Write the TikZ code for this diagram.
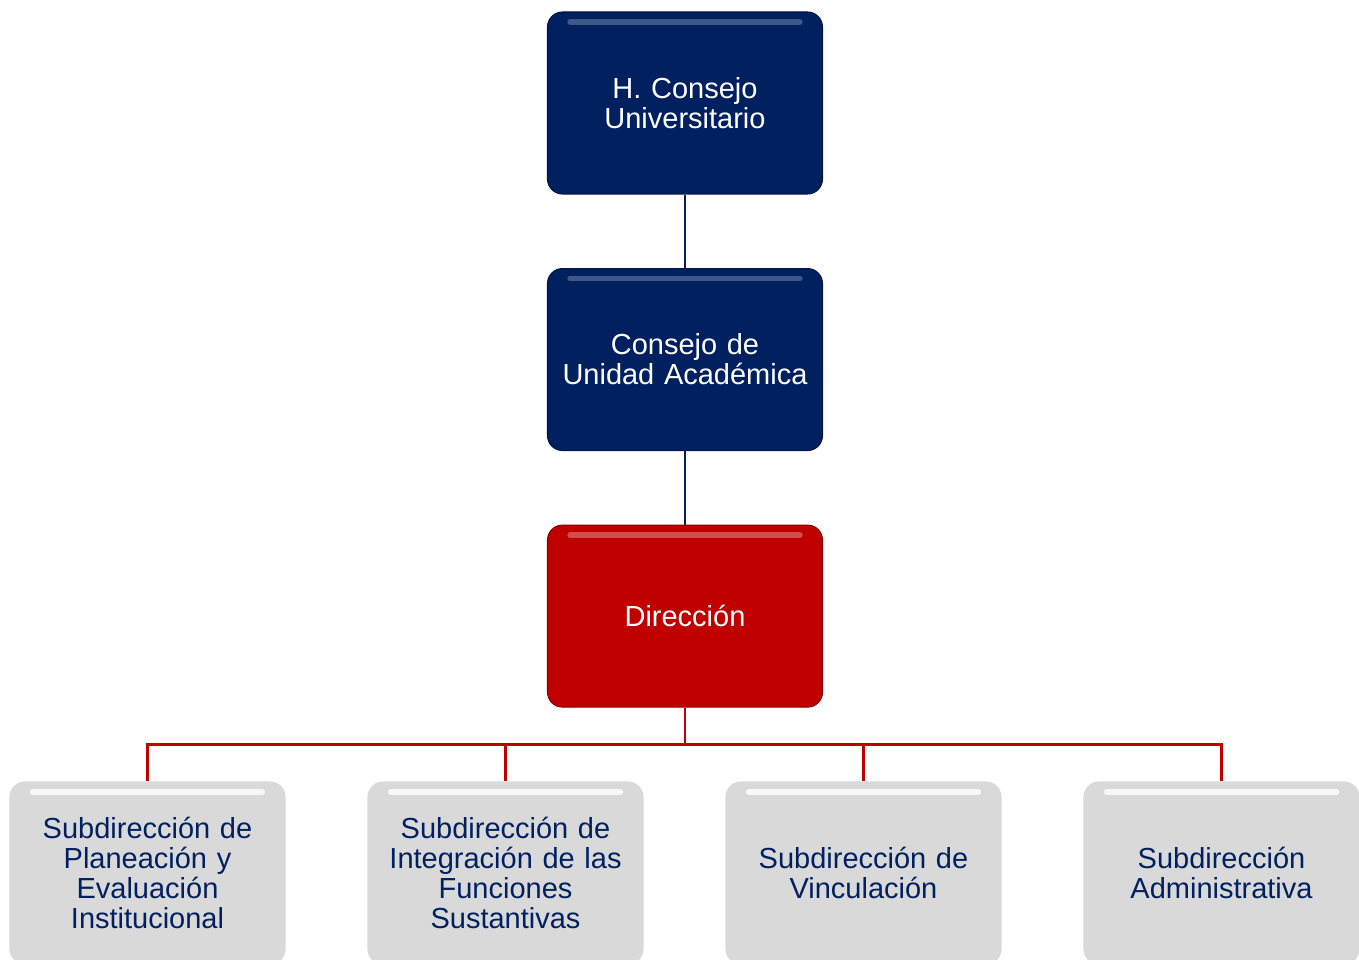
\documentclass[tikz,border=0pt]{standalone}
\usepackage{fontspec}
\setmainfont{Liberation Sans}
\usetikzlibrary{positioning}
\definecolor{navyblue}{HTML}{002060}
\definecolor{darkred}{HTML}{C00000}
\definecolor{lightgray}{HTML}{D9D9D9}

\begin{document}
\begin{tikzpicture}[node distance=1.47cm, every node/.style={align=center, rounded corners=0.3cm, minimum width=5.5cm, minimum height=3.64cm, text width=5.2cm, font=\fontsize{16.5}{17}\selectfont}, gloss/.style={path picture={\draw[white, opacity=#1, line width=3pt, line cap=round] ([xshift=0.45cm,yshift=-0.2cm]path picture bounding box.north west) -- ([xshift=-0.45cm,yshift=-0.2cm]path picture bounding box.north east);}}, bluebox/.style={fill=navyblue, draw=navyblue!70!black, line width=0.6pt, text=white, gloss=0.25}, redbox/.style={fill=darkred, draw=darkred!70!black, line width=0.6pt, text=white, gloss=0.3}, graybox/.style={fill=lightgray, draw=white!85!black, line width=0.6pt, text=navyblue, gloss=0.8}, blueline/.style={draw=navyblue, line width=1.2pt}, redline/.style={draw=darkred, line width=1.6pt}]
        \useasboundingbox (0,0) rectangle (27.18,-19.2);
        \node[bluebox] (hcu) at (13.7,-2.06) {H. Consejo\\Universitario};
        \node[bluebox, below=of hcu] (cua) {Consejo de\\Unidad Académica};
        \node[redbox, below=of cua] (dir) {Dirección};
        \node[graybox] (spe) at (2.95,-17.46) {Subdirección de\\Planeación y\\Evaluación\\Institucional};
        \node[graybox] (sif) at (10.11,-17.46) {Subdirección de\\Integración de las\\Funciones\\Sustantivas};
        \node[graybox] (svi) at (17.27,-17.46) {Subdirección de\\Vinculación};
        \node[graybox] (sad) at (24.43,-17.46) {Subdirección\\Administrativa};

        \draw[blueline] (hcu) -- (cua);
        \draw[blueline] (cua) -- (dir);
        \draw[redline] (dir.south) -- ++(0,-0.74) -| (spe.north);
        \draw[redline] (dir.south) -- ++(0,-0.74) -| (sif.north);
        \draw[redline] (dir.south) -- ++(0,-0.74) -| (svi.north);
        \draw[redline] (dir.south) -- ++(0,-0.74) -| (sad.north);
\end{tikzpicture}
\end{document}
